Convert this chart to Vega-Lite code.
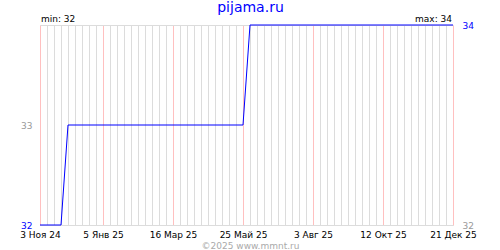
{
  "$schema": "https://vega.github.io/schema/vega-lite/v6.json",
  "width": 413,
  "height": 200,
  "autosize": "none",
  "padding": {"left": 40, "top": 25, "right": 47, "bottom": 25},
  "title": {"text": "pijama.ru", "color": "#0000ff", "fontSize": 14, "font": "DejaVu Sans", "fontWeight": "normal", "anchor": "middle", "frame": "group", "baseline": "alphabetic", "offset": -11, "dx": 4},
  "config": {
    "view": {"stroke": null},
    "axis": {"domain": false, "ticks": false, "labelFont": "DejaVu Sans", "titleFont": "DejaVu Sans"}
  },
  "data": {"values": [
    {"date": "2024-11-03", "value": 32},
    {"date": "2024-11-24", "value": 32},
    {"date": "2024-12-01", "value": 33},
    {"date": "2025-05-25", "value": 33},
    {"date": "2025-06-01", "value": 34},
    {"date": "2025-12-21", "value": 34}
  ]},
  "layer": [
    {
      "mark": {"type": "line", "opacity": 0},
      "encoding": {
        "x": {"field": "date", "type": "temporal",
          "scale": {"type": "utc", "domain": [{"year": 2024, "month": 11, "date": 3, "utc": true}, {"year": 2025, "month": 12, "date": 21, "utc": true}]},
          "axis": {"orient": "bottom", "labels": false, "title": null, "grid": true, "gridColor": "#dcdcdc", "gridOpacity": 1, "tickCount": {"interval": "week", "step": 1}}},
        "y": {"field": "value", "type": "quantitative",
          "scale": {"domain": [32, 34], "nice": false, "zero": false},
          "axis": {"orient": "left", "values": [32, 33], "format": "d", "title": null, "grid": false, "labelFontSize": 9, "labelPadding": 8,
            "labelColor": {"expr": "datum.value == 32 ? '#0000ff' : '#999999'"}}}
      }
    },
    {
      "mark": {"type": "line", "color": "#0000ff", "strokeWidth": 1},
      "encoding": {
        "x": {"field": "date", "type": "temporal",
          "scale": {"type": "utc", "domain": [{"year": 2024, "month": 11, "date": 3, "utc": true}, {"year": 2025, "month": 12, "date": 21, "utc": true}]},
          "axis": {"orient": "bottom", "grid": true, "gridColor": "#ffc0c0", "gridOpacity": 1,
            "values": [
              {"year": 2024, "month": 11, "date": 3, "utc": true},
              {"year": 2025, "month": 1, "date": 5, "utc": true},
              {"year": 2025, "month": 3, "date": 16, "utc": true},
              {"year": 2025, "month": 5, "date": 25, "utc": true},
              {"year": 2025, "month": 8, "date": 3, "utc": true},
              {"year": 2025, "month": 10, "date": 12, "utc": true},
              {"year": 2025, "month": 12, "date": 21, "utc": true}
            ],
            "labelExpr": "utcdate(datum.value) + ' ' + ['Янв','Фев','Мар','Апр','Май','Июн','Июл','Авг','Сен','Окт','Ноя','Дек'][utcmonth(datum.value)] + ' ' + utcFormat(datum.value, '%y')",
            "labelFontSize": 9, "labelColor": "#000000", "labelPadding": 5, "labelFlush": false, "labelOverlap": false,
            "title": "©2025 www.mmnt.ru", "titleFontSize": 9, "titleFontWeight": "normal", "titleColor": "#aaaaaa", "titlePadding": 2, "titleX": 210}},
        "y": {"field": "value", "type": "quantitative",
          "scale": {"domain": [32, 34], "nice": false, "zero": false},
          "axis": {"orient": "right", "values": [32, 33, 34], "format": "d", "title": null, "grid": true, "gridColor": "#dcdcdc", "gridOpacity": 1, "labelFontSize": 9, "labelPadding": 9,
            "labelColor": {"expr": "datum.value == 34 ? '#0000ff' : '#999999'"}}}
      }
    },
    {
      "data": {"values": [{"date": "2024-11-03", "value": 34, "label": "min: 32"}]},
      "mark": {"type": "text", "align": "left", "baseline": "alphabetic", "dx": 1, "dy": -3, "font": "DejaVu Sans", "fontSize": 9, "color": "#000000"},
      "encoding": {
        "x": {"field": "date", "type": "temporal", "axis": null},
        "y": {"field": "value", "type": "quantitative", "axis": null},
        "text": {"field": "label"}
      }
    },
    {
      "data": {"values": [{"date": "2025-12-21", "value": 34, "label": "max: 34"}]},
      "mark": {"type": "text", "align": "right", "baseline": "alphabetic", "dx": -1, "dy": -3, "font": "DejaVu Sans", "fontSize": 9, "color": "#000000"},
      "encoding": {
        "x": {"field": "date", "type": "temporal", "axis": null},
        "y": {"field": "value", "type": "quantitative", "axis": null},
        "text": {"field": "label"}
      }
    }
  ],
  "resolve": {"axis": {"x": "independent", "y": "independent"}}
}
